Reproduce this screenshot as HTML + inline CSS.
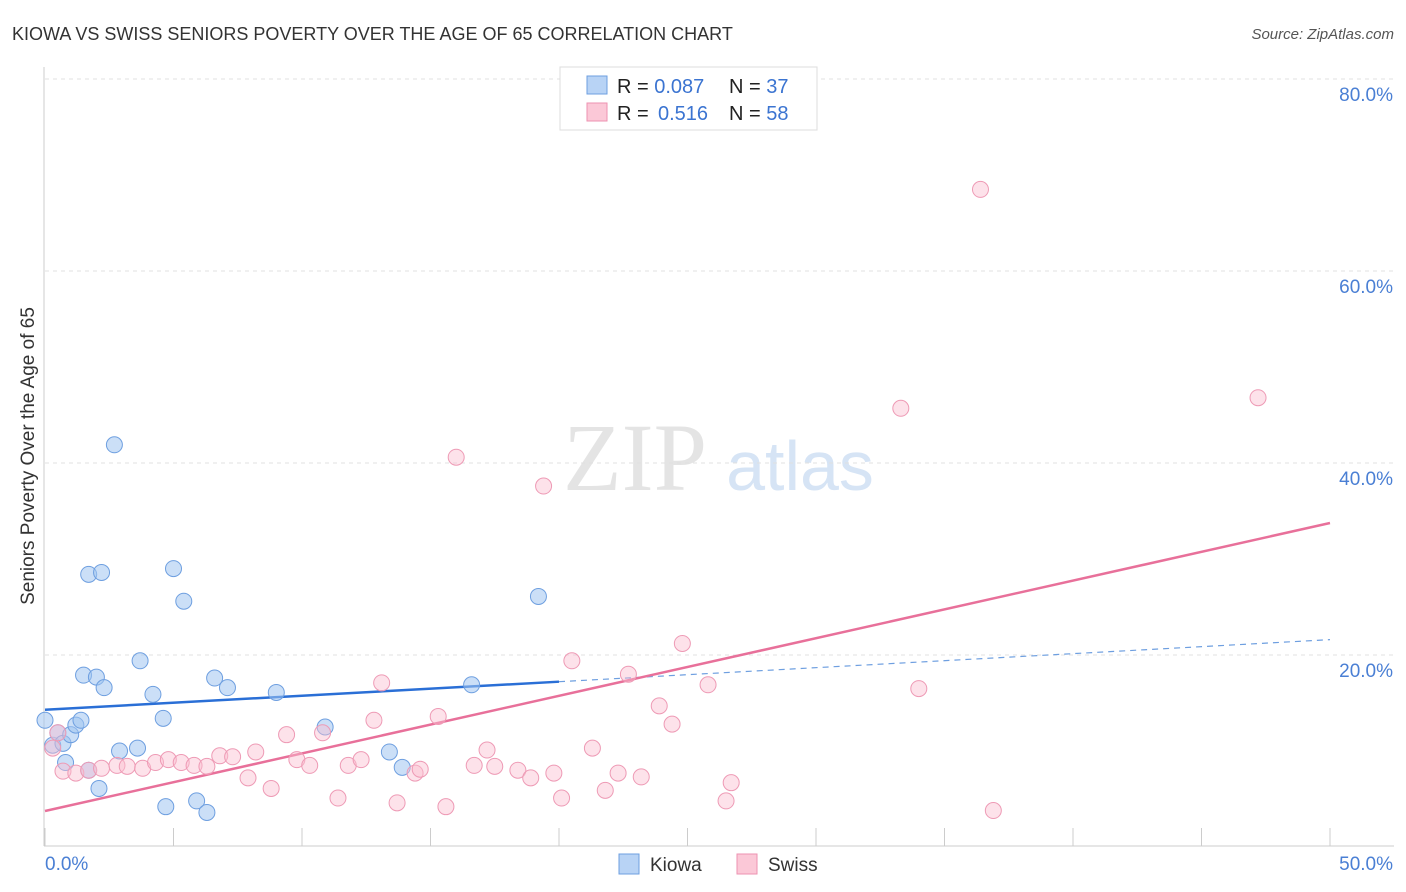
<!DOCTYPE html>
<html><head><meta charset="utf-8"><style>
body{margin:0;background:#fff;font-family:"Liberation Sans",sans-serif;}
svg{display:block}
</style></head><body>
<svg id="chart" width="1406" height="892">
<text x="12" y="40" font-size="18" fill="#333">KIOWA VS SWISS SENIORS POVERTY OVER THE AGE OF 65 CORRELATION CHART</text>
<text x="1394" y="39" font-size="15" fill="#555" font-style="italic" text-anchor="end">Source: ZipAtlas.com</text>
<text x="0" y="0" font-size="19" fill="#333" transform="translate(34,456) rotate(-90)" text-anchor="middle">Seniors Poverty Over the Age of 65</text>
<text x="635" y="490" font-size="96" fill="#e4e4e4" font-family="Liberation Serif,serif" text-anchor="middle">ZIP</text>
<text x="800" y="490" font-size="70" fill="#d6e4f5" text-anchor="middle">atlas</text>
<g id="grid"></g><g id="axes"></g><g id="lines"></g><g id="pts"></g>
<g>
<rect x="560" y="67" width="257" height="63" fill="#fff" stroke="#ddd"/>
<rect x="587" y="76" width="20" height="18" fill="#b8d3f5" stroke="#6e9fe0"/>
<rect x="587" y="103" width="20" height="18" fill="#fbc8d7" stroke="#ee92b0"/>
<text x="617" y="93" font-size="20" fill="#222">R = <tspan fill="#3b74d1">0.087</tspan><tspan x="729">N = </tspan><tspan fill="#3b74d1">37</tspan></text>
<text x="617" y="120" font-size="20" fill="#222">R = <tspan x="658" fill="#3b74d1">0.516</tspan><tspan x="729">N = </tspan><tspan fill="#3b74d1">58</tspan></text>
</g>
<g>
<rect x="619" y="854" width="20" height="20" fill="#b8d3f5" stroke="#6e9fe0"/>
<text x="650" y="871" font-size="19" fill="#333">Kiowa</text>
<rect x="737" y="854" width="20" height="20" fill="#fbc8d7" stroke="#ee92b0"/>
<text x="768" y="871" font-size="19" fill="#333">Swiss</text>
</g>
</svg>
<script>
const xTicks=[0,50];
const yTicks=[20,40,60,80];
const kiowaX=[0,0.3,0.5,0.7,0.8,1.0,1.2,1.4,1.5,1.7,1.7,2.0,2.1,2.2,2.3,2.7,2.9,3.6,3.7,4.2,4.6,4.7,5.0,5.4,5.9,6.3,6.6,7.1,9.0,10.9,13.4,13.9,16.6,19.2];
const kiowaY=[13.2,10.6,11.9,10.8,8.8,11.7,12.7,13.2,17.9,8.0,28.4,17.7,6.1,28.6,16.6,41.9,10.0,10.3,19.4,15.9,13.4,4.2,29.0,25.6,4.8,3.6,17.6,16.6,16.1,12.5,9.9,8.3,16.9,26.1];
const swissX=[0.3,0.5,0.7,1.2,1.7,2.2,2.8,3.2,3.8,4.3,4.8,5.3,5.8,6.3,6.8,7.3,7.9,8.2,8.8,9.4,9.8,10.3,10.8,11.4,11.8,12.3,12.8,13.1,13.7,14.4,14.6,15.3,15.6,16.0,16.7,17.2,17.5,18.4,18.9,19.4,19.8,20.1,20.5,21.3,21.8,22.3,22.7,23.2,23.9,24.4,24.8,25.8,26.5,26.7,33.3,34.0,36.4,36.9,47.2];
const swissY=[10.3,11.9,7.9,7.7,8.0,8.2,8.5,8.4,8.2,8.8,9.1,8.8,8.5,8.4,9.5,9.4,7.2,9.9,6.1,11.7,9.1,8.5,11.9,5.1,8.5,9.1,13.2,17.1,4.6,7.7,8.1,13.6,4.2,40.6,8.5,10.1,8.4,8.0,7.2,37.6,7.7,5.1,19.4,10.3,5.9,7.7,18.0,7.3,14.7,12.8,21.2,16.9,4.8,6.7,45.7,16.5,68.5,3.8,46.8];
const kiowaLine=[14.3,21.6];
const swissLine=[3.75,33.75];
const NS="http://www.w3.org/2000/svg";
const X=v=>45+v*25.7, Y=v=>847-v*9.6;
function mk(t,a,p){const e=document.createElementNS(NS,t);for(const k in a)e.setAttribute(k,a[k]);p.appendChild(e);return e;}
const grid=document.getElementById('grid'),axes=document.getElementById('axes');
yTicks.forEach(t=>{
 const l=mk('line',{x1:45,x2:1394,y1:Y(t),y2:Y(t),stroke:'#e0e0e0','stroke-dasharray':'4,4'},grid);
 
 
 const tx=mk('text',{x:1393,y:Y(t)+22,'font-size':19,fill:'#4a7fd4','text-anchor':'end'},axes);
 tx.textContent=t.toFixed(1)+'%';
 
 
});
mk('line',{x1:45,x2:1394,y1:79,y2:79,stroke:'#e0e0e0','stroke-dasharray':'4,4'},grid);
mk('line',{x1:44,x2:44,y1:67,y2:846,stroke:'#ccc'},axes);
mk('line',{x1:44,x2:1394,y1:846,y2:846,stroke:'#ccc'},axes);
for(let i=0;i<=10;i++){mk('line',{x1:X(i*5),x2:X(i*5),y1:828,y2:846,stroke:'#ccc'},axes);}
xTicks.forEach((t,i)=>{
 const tx=mk('text',{x:i?1393:45,y:870,'font-size':19,fill:'#4a7fd4','text-anchor':i?'end':'start'},axes);
 tx.textContent=t.toFixed(1)+'%';
 
 
});
const pts=document.getElementById('pts'),lines=document.getElementById('lines');
kiowaX.forEach((x,i)=>{const c=mk('circle',{cx:X(x),cy:Y(kiowaY[i]),r:8,fill:'rgba(160,196,240,0.55)',stroke:'#6e9fe0','stroke-width':1},pts);
 
 });
swissX.forEach((x,i)=>{const c=mk('circle',{cx:X(x),cy:Y(swissY[i]),r:8,fill:'rgba(250,190,208,0.45)',stroke:'#ee9ab5','stroke-width':1},pts);
 
 });
const kAt=v=>kiowaLine[0]+(kiowaLine[1]-kiowaLine[0])*v/50;
let l1=mk('line',{x1:X(0),y1:Y(kAt(0)),x2:X(20),y2:Y(kAt(20)),stroke:'#2a6fd6','stroke-width':2.5},lines);


let l2=mk('line',{x1:X(20),y1:Y(kAt(20)),x2:X(50),y2:Y(kAt(50)),stroke:'#6e9fe0','stroke-width':1.2,'stroke-dasharray':'6,5'},lines);


let l3=mk('line',{x1:X(0),y1:Y(swissLine[0]),x2:X(50),y2:Y(swissLine[1]),stroke:'#e8709a','stroke-width':2.5},lines);


</script>
</body></html>
